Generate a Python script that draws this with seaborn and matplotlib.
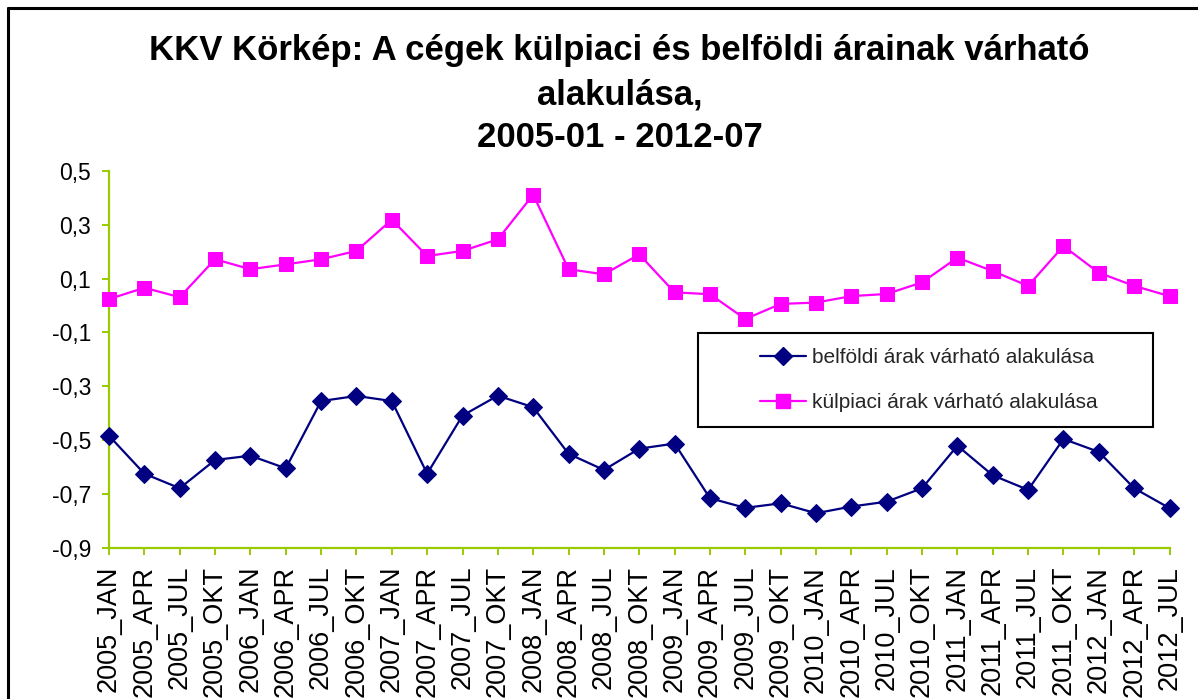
import matplotlib
matplotlib.use("Agg")
import matplotlib.pyplot as plt
from matplotlib.lines import Line2D
from matplotlib.patches import Rectangle
import seaborn as sns
import pandas as pd

# Quarterly periods
periods = [
    "2005_JAN", "2005_APR", "2005_JUL", "2005_OKT",
    "2006_JAN", "2006_APR", "2006_JUL", "2006_OKT",
    "2007_JAN", "2007_APR", "2007_JUL", "2007_OKT",
    "2008_JAN", "2008_APR", "2008_JUL", "2008_OKT",
    "2009_JAN", "2009_APR", "2009_JUL", "2009_OKT",
    "2010_JAN", "2010_APR", "2010_JUL", "2010_OKT",
    "2011_JAN", "2011_APR", "2011_JUL", "2011_OKT",
    "2012_JAN", "2012_APR", "2012_JUL",
]

# Expected domestic price change (balance indicator)
belfoldi = [
    -0.484, -0.625, -0.679, -0.574, -0.558, -0.605, -0.355, -0.336,
    -0.355, -0.625, -0.409, -0.335, -0.378, -0.551, -0.611, -0.532,
    -0.513, -0.716, -0.752, -0.735, -0.772, -0.747, -0.729, -0.679,
    -0.521, -0.631, -0.685, -0.496, -0.544, -0.679, -0.753,
]

# Expected export price change (balance indicator)
kulpiaci = [
    0.024, 0.066, 0.031, 0.172, 0.135, 0.153, 0.172, 0.203,
    0.319, 0.184, 0.203, 0.246, 0.412, 0.135, 0.116, 0.190,
    0.049, 0.042, -0.050, 0.006, 0.011, 0.035, 0.043, 0.086,
    0.178, 0.128, 0.073, 0.221, 0.122, 0.073, 0.035,
]

series_names = ["belföldi árak várható alakulása", "külpiaci árak várható alakulása"]
y_ticks = [-0.9, -0.7, -0.5, -0.3, -0.1, 0.1, 0.3, 0.5]
y_tick_labels = ["-0,9", "-0,7", "-0,5", "-0,3", "-0,1", "0,1", "0,3", "0,5"]
title_lines = [
    "KKV Körkép: A cégek külpiaci és belföldi árainak várható",
    "alakulása,",
    "2005-01 - 2012-07",
]

sns.set_style("white")
plt.rcParams["font.family"] = ["Liberation Sans", "DejaVu Sans"]

W, H = 1198, 699
fig = plt.figure(figsize=(W / 100, H / 100), dpi=100)
fig.patch.set_facecolor("white")


def fx(px):
    return px / W


def fy(py):
    return 1 - py / H


ax = fig.add_axes([fx(109), fy(547.7), fx(1169.5) - fx(109), fy(171) - fy(547.7)])

df = pd.DataFrame({
    "pos": list(range(len(periods))) * 2,
    "value": belfoldi + kulpiaci,
    "series": [series_names[0]] * len(periods) + [series_names[1]] * len(periods),
})

navy = "#000080"
magenta = "#FF00FF"
axis_green = "#99CC00"

sns.lineplot(data=df[df["series"] == series_names[0]], x="pos", y="value",
             color=navy, marker="D", markersize=9.5, markeredgecolor=navy,
             linewidth=1.6, ax=ax, legend=False, clip_on=False, zorder=4)
sns.lineplot(data=df[df["series"] == series_names[1]], x="pos", y="value",
             color=magenta, marker="s", markersize=9.5, markeredgecolor=magenta,
             linewidth=1.6, ax=ax, legend=False, clip_on=False, zorder=4)

ax.set_xlim(0, len(periods) - 1)
ax.set_ylim(-0.9, 0.5)
ax.set_xticks(range(len(periods)))
ax.set_xticklabels(periods, rotation=90, fontsize=19.5, va="top", ha="center")
ax.set_yticks(y_ticks)
ax.set_yticklabels(y_tick_labels, fontsize=16.5)
ax.set_xlabel("")
ax.set_ylabel("")

for side in ["top", "right"]:
    ax.spines[side].set_visible(False)
for side in ["left", "bottom"]:
    ax.spines[side].set_color(axis_green)
    ax.spines[side].set_linewidth(1.6)
ax.tick_params(axis="both", direction="out", color=axis_green, width=1.4,
               length=5, labelcolor="black", bottom=True, left=True)
ax.tick_params(axis="x", pad=8)
ax.tick_params(axis="y", pad=8)
ax.grid(False)
ax.set_facecolor("white")

# Title
baselines = [60, 104, 147]
for line, b in zip(title_lines, baselines):
    fig.text(fx(619.5), fy(b), line, ha="center", va="baseline",
             fontsize=25, fontweight="bold", color="black")

# Legend with framed box
box = Rectangle((fx(698), fy(427)), fx(1153) - fx(698), fy(333) - fy(427),
                transform=fig.transFigure, facecolor="white", edgecolor="black",
                linewidth=1.5, zorder=5)
fig.patches.append(box)
handles = [
    Line2D([], [], color=navy, marker="D", markersize=9.5, linewidth=1.6),
    Line2D([], [], color=magenta, marker="s", markersize=9.5, linewidth=1.6),
]
leg = fig.legend(handles, series_names, loc="center",
                 bbox_to_anchor=(fx(929), fy(380)), frameon=False,
                 fontsize=15, handlelength=2.2, handletextpad=0.3,
                 labelspacing=1.25)
leg.set_zorder(6)

# Outer chart border
fig.add_artist(Line2D([fx(8), fx(1198)], [fy(8), fy(8)], transform=fig.transFigure,
                      color="black", linewidth=2.2))
fig.add_artist(Line2D([fx(8), fx(8)], [fy(8), fy(699)], transform=fig.transFigure,
                      color="black", linewidth=2.2))

fig.savefig("out.png", dpi=100, facecolor="white")
